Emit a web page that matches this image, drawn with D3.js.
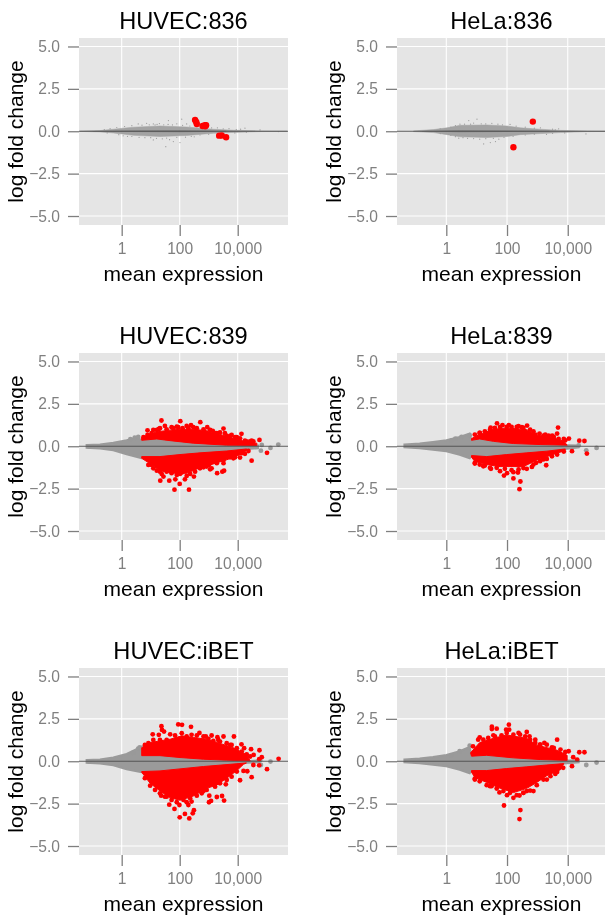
<!DOCTYPE html>
<html><head><meta charset="utf-8">
<script src="https://cdn.jsdelivr.net/npm/d3@7"></script>
<style>html,body{margin:0;padding:0;background:#fff;overflow:hidden}svg{display:block;filter:blur(.35px)}text{font-family:"Liberation Sans",Arial,sans-serif}</style>
</head><body><div id="chart"></div>
<script>
// All pairs are [log10 mean expression, log fold change].
const panelTitles = ["HUVEC:836","HeLa:836","HUVEC:839","HeLa:839","HUVEC:iBET","HeLa:iBET"];
const xTicks = [1,100,10000];
const yTicks = [5,2.5,0,-2.5,-5];

const grey836H = [[-1.44,.01],[-.75,.04],[-.29,.12],[.4,.24],[1.32,.31],[2.24,.25],[3.16,.12],[3.85,.06],[4.77,.02],[5.7,.01],[5.7,-.01],[4.77,-.02],[3.85,-.07],[3.16,-.12],[2.24,-.25],[1.32,-.31],[.4,-.24],[-.29,-.1],[-.75,-.04],[-1.44,-.01]];
const core836H = [[-1,.02],[.2,.05],[2,.06],[3.6,.03],[3.6,-.03],[2,-.06],[.2,-.05],[-1,-.02]];
const greyDots836H = [[1.61,.63],[2.07,.71],[1.52,-.91],[1.09,-.51],[2.01,-.67],[1.78,-.61],[.57,.43],[.86,.47],[1.09,.43],[1.22,.4],[4.25,.18],[4.77,.08],[5.4,-.02],[-.17,.22],[2.24,.43],[1.3,.45],[1.9,.44],[.8,-.38],[1.4,-.45],[2.5,-.33],[3.3,.2],[3.7,.15],[2.7,.3],[.2,-.3],[1.65,-.5],[.1,.28],[.35,.33],[.7,.36],[.95,.38],[1.15,.37],[1.45,.38],[1.6,.4],[1.75,.37],[2.1,.35],[2.35,.31],[2.9,.24],[3.1,.2],[3.5,.14],[3.95,.1],[4.1,.12],[-.4,.15],[-.6,.1],[-.5,-.1],[-.1,-.2],[.05,-.27],[.35,-.31],[.6,-.36],[1,-.38],[1.2,-.42],[1.55,-.4],[1.9,-.36],[2.2,-.35],[2.4,-.3],[2.7,-.22],[3,-.18],[3.4,-.13],[3.9,-.1],[4.3,-.06]];
const red836H = [[2.53,.67],[2.57,.55],[2.59,.43],[2.79,.31],[2.87,.36],[2.91,.35],[2.88,.29],[3.36,-.26],[3.45,-.25],[3.6,-.35]];

const grey836L = [[-1.08,.02],[-.42,.1],[.02,.2],[.46,.35],[1.34,.37],[2,.31],[2.44,.2],[3.1,.12],[3.76,.05],[4.64,.02],[5.24,.01],[5.24,-.01],[4.64,-.02],[3.76,-.08],[3.1,-.14],[2.44,-.2],[2,-.31],[1.34,-.37],[.46,-.33],[.02,-.2],[-.42,-.08],[-1.08,-.02]];
const core836L = [[-.8,.02],[.4,.06],[2,.05],[3.4,.03],[3.4,-.03],[2,-.05],[.4,-.06],[-.8,-.02]];
const greyDots836L = [[.74,.63],[1.01,.71],[1.23,-.75],[1.45,-.67],[1.62,-.61],[.45,.42],[3.59,.08],[4.6,-.16],[.41,-.41],[1.73,-.47],[.9,.48],[1.5,.47],[2.1,.4],[3.1,.2],[.7,-.42],[1.1,-.47],[3.3,-.18],[.15,.25],[.3,.33],[.6,.42],[.8,.42],[1.15,.44],[1.3,.43],[1.7,.42],[1.85,.38],[2.3,.3],[2.6,.24],[2.9,.18],[3.5,.12],[3.7,.14],[-.2,.14],[-.2,-.14],[.15,-.25],[.3,-.32],[.55,-.38],[.9,-.43],[1.3,-.44],[1.55,-.42],[1.9,-.36],[2.2,-.3],[2.6,-.22],[2.9,-.17],[3.5,-.12],[3.9,-.1]];
const red836L = [[2.85,.57],[2.21,-.94]];

const grey839H = [[-1.21,.07],[-.75,.1],[-.29,.2],[.17,.35],[.5,.5],[.69,.37],[1.21,.43],[1.67,.33],[2.47,.18],[3.62,.06],[4.31,.04],[4.7,.04],[4.7,-.12],[4.31,-.16],[3.62,-.28],[2.7,-.39],[2.01,-.49],[1.32,-.61],[.69,-.71],[.17,-.47],[-.29,-.24],[-.75,-.14],[-1.21,-.09]];
const greyDots839H = [[.57,.55],[4.83,.08],[5.4,.1],[5.13,-.1],[4.8,-.26],[-1.13,-.02],[.3,.42],[.45,.5]];
const redUp839H = [[.69,.48],[.86,.65],[1.21,.85],[1.67,.95],[2.01,1],[2.47,1],[2.93,.92],[3.39,.7],[3.85,.47],[4.31,.25],[4.66,.18],[4.66,.04],[3.62,.06],[2.47,.18],[1.67,.33],[1.21,.43],[.69,.35]];
const redDn839H = [[.69,-.61],[1.32,-.61],[2.01,-.49],[2.7,-.39],[3.62,-.28],[4.31,-.16],[4.31,-.25],[4.08,-.5],[3.62,-.8],[3.05,-1.1],[2.58,-1.35],[2.24,-1.6],[1.82,-1.6],[1.32,-1.45],[1,-1.05],[.69,-.71]];
const redDots839H = [[1.37,1.52],[2.02,1.48],[2.71,1.42],[2.39,1.24],[.89,.94],[1.49,1.2],[1.28,1.02],[1.78,1.06],[1.95,1.12],[2.47,1.12],[2.95,1.12],[3.51,1.04],[3.14,.91],[4.13,.73],[3.79,.67],[4.75,.37],[4.43,.28],[4.54,.28],[4.25,.33],[3.97,.53],[1.09,.96],[.75,.53],[3.28,.77],[3.62,.61],[2.24,1.2],[1.82,-2.56],[2.32,-2.56],[2,-2.22],[1.33,-2.03],[1.64,-2.03],[1.85,-1.95],[2.18,-1.95],[2.49,-1.79],[1.44,-1.79],[2.24,-1.75],[2.01,-1.63],[2.82,-1.24],[3.29,-1.59],[3.47,-1.5],[3.53,-1.44],[4.48,-.85],[5.01,-.39],[3.05,-1.36],[4.08,-.67],[4.25,-.45],[1.32,-1.5],[3.01,-1.1],[3.51,-1],[3.85,-.71],[1.03,-1.1],
[.89,.67],[1.03,.77],[1.21,.96],[1.32,1.06],[1.55,1],[1.72,1.12],[1.9,1.16],[2.1,1.06],[2.3,1.06],[2.59,1.06],[2.82,1],[3.05,.96],[3.22,.77],[3.39,.81],[3.56,.77],[3.74,.61],[3.91,.53],[4.08,.47],[4.31,.28],[4.48,.33],
[.92,-1.1],[1.09,-1.3],[1.21,-1.44],[1.38,-1.63],[1.55,-1.5],[1.72,-1.59],[1.9,-1.69],[2.07,-1.55],[2.36,-1.63],[2.53,-1.5],[2.7,-1.3],[2.93,-1.2],[3.1,-1.3],[3.28,-1],[3.51,-.81],[3.74,-.65],[3.91,-.65],[4.14,-.41],[4.37,-.28]];

const grey839L = [[-1.38,.1],[-.88,.16],[-.44,.25],[0,.35],[.44,.55],[.77,.75],[.83,.35],[1.1,.43],[1.55,.29],[2.21,.16],[3.09,.1],[3.98,.06],[4.36,.05],[4.36,-.06],[3.92,-.16],[3.31,-.29],[2.65,-.39],[1.99,-.49],[1.33,-.61],[.83,-.55],[.77,-.71],[.44,-.5],[0,-.3],[-.44,-.2],[-.88,-.12],[-1.38,-.06]];
const greyDots839L = [[4.61,-.24],[4.95,-.1],[.77,.65],[.17,.35],[4.36,.05],[.5,.55],[.3,.45]];
const redUp839L = [[.83,.45],[1.1,.7],[1.55,1],[1.99,1.08],[2.65,.98],[2.98,.65],[3.43,.55],[3.87,.3],[3.98,.06],[3.09,.1],[2.21,.16],[1.55,.29],[1.1,.43],[.83,.35]];
const redDn839L = [[.83,-.55],[1.33,-.61],[1.99,-.49],[2.65,-.39],[3.31,-.29],[3.92,-.16],[3.87,-.28],[3.54,-.47],[2.98,-.82],[2.54,-1.2],[1.77,-1.2],[1.44,-1.12],[.94,-.9],[.83,-.65]];
const redDots839L = [[1.67,1.35],[1.85,1.24],[2.06,1.25],[2.66,1.22],[1.46,1.1],[2.32,1.14],[2.49,1.12],[3.68,1.1],[3.65,.75],[3.49,.63],[3.07,.75],[3.87,.43],[4.04,.45],[4.38,.33],[4.55,.31],[1.1,.78],[2.87,.88],[3.26,.69],[2.41,-2.53],[2.44,-2.08],[2.21,-1.9],[1.9,-1.73],[2,-1.59],[2.21,-1.53],[2.36,-1.55],[1.77,-1.47],[1.47,-1.33],[2.54,-1.29],[2.82,-1.22],[2.96,-.98],[3.29,-1.12],[3.87,-.31],[4.14,-.29],[4.63,-.43],[.94,-1.02],[1.22,-1.18],[3.2,-.78],
[.94,.69],[1.1,.78],[1.27,.88],[1.44,.98],[1.6,1.08],[1.77,1.14],[1.99,1.14],[2.15,1.14],[2.38,1.18],[2.54,1.08],[2.76,.98],[2.93,.69],[3.2,.63],[3.37,.63],[3.54,.55],[3.7,.43],[3.92,.35],
[.94,-.98],[1.1,-1.08],[1.27,-1.14],[1.44,-1.27],[1.66,-1.27],[1.93,-1.33],[2.15,-1.41],[2.38,-1.37],[2.65,-1.33],[2.87,-1.08],[3.09,-.88],[3.31,-.75],[3.48,-.59],[3.65,-.49]];

const greyIbetH = [[-1.21,.07],[-.75,.1],[-.29,.22],[.17,.43],[.55,.75],[.69,.87],[.69,.33],[1.32,.33],[2.01,.22],[2.82,.12],[3.62,.06],[4.43,.02],[4.75,.04],[4.75,-.06],[4.2,-.1],[3.74,-.18],[2.82,-.31],[2.01,-.45],[1.32,-.57],[.69,-.65],[.17,-.47],[-.29,-.24],[-.75,-.14],[-1.21,-.09]];
const greyDotsIbetH = [[5.13,-.02],[4.8,-.22],[4.77,.06],[-1.13,-.02],[.57,.75],[.4,.5],[.62,.82]];
const redUpIbetH = [[.69,.8],[.98,1.1],[1.32,1.2],[1.67,1.3],[2.07,1.5],[2.47,1.4],[2.93,1.3],[3.39,1.05],[3.85,.8],[4.31,.38],[4.43,.02],[3.62,.06],[2.82,.12],[2.01,.22],[1.32,.33],[.69,.33]];
const redDnIbetH = [[.69,-.61],[1.32,-.57],[2.01,-.45],[2.82,-.31],[3.74,-.18],[4.3,-.1],[4.2,-.18],[3.97,-.55],[3.62,-1],[3.28,-1.4],[2.93,-1.6],[2.47,-2.05],[2.01,-2.3],[1.67,-2.15],[1.32,-1.75],[.98,-1.3],[.69,-.65]];
const redDotsIbetH = [[1.37,2.07],[1.39,1.85],[1.95,2.17],[2.08,2.15],[2.39,2.03],[1.07,1.59],[1.28,1.56],[1.46,1.75],[1.67,1.59],[2.41,1.56],[2.68,1.67],[2.9,1.46],[3.1,1.52],[3.3,1.42],[3.51,1.46],[3.87,1.46],[4.13,1],[4.22,.77],[4.46,.71],[4.75,.65],[4.55,.37],[4.83,.24],[5.41,.14],[4.74,.12],[3.74,.96],[3.39,1.16],[2,-3.31],[2.18,-3.11],[2.33,-3.37],[2.45,-3.07],[2.49,-2.89],[1.82,-2.81],[1.64,-2.56],[1.99,-2.58],[2.24,-2.42],[2.3,-2.58],[2.41,-2.38],[3.01,-2.42],[3.08,-2.34],[3.53,-2.32],[3.46,-2.05],[3.28,-2.11],[3.02,-2.03],[2.82,-1.75],[3.59,-1.36],[4.08,-1.12],[4.48,-.94],[5.01,-.47],[4.2,-.57],[4.33,-.59],[4.54,-.22],[4.74,-.24],[1.36,-2.03],[1.55,-2.09],
[.8,.96],[.92,1.06],[1.09,1.26],[1.32,1.26],[1.55,1.26],[1.84,1.52],[2.07,1.65],[2.24,1.46],[2.59,1.52],[2.82,1.46],[2.99,1.32],[3.16,1.2],[3.33,1.26],[3.62,1.06],[3.79,.96],[3.97,.77],[4.14,.57],[4.31,.41],[4.43,.28],
[.8,-1],[.98,-1.44],[1.15,-1.69],[1.32,-1.89],[1.49,-2.09],[1.72,-2.28],[1.9,-2.42],[2.13,-2.28],[2.36,-2.18],[2.59,-2.03],[2.76,-1.89],[2.93,-1.69],[3.22,-1.5],[3.39,-1.3],[3.62,-1.1],[3.79,-.91],[3.97,-.61]];

const greyIbetL = [[-1.38,.1],[-.88,.16],[-.44,.25],[0,.37],[.44,.59],[.77,.85],[.83,.3],[1.33,.35],[2.21,.2],[3.09,.1],[3.98,.05],[4.36,.05],[4.36,-.06],[3.87,-.14],[3.31,-.22],[2.65,-.33],[1.99,-.43],[1.33,-.55],[.83,-.55],[.77,-.71],[.44,-.5],[0,-.3],[-.44,-.2],[-.88,-.12],[-1.38,-.06]];
const greyDotsIbetL = [[4.61,-.22],[4.95,-.08],[.77,.92],[.44,.59],[.17,.35]];
const redUpIbetL = [[.8,.5],[1.1,1.1],[1.55,1.35],[1.99,1.55],[2.65,1.35],[2.98,.95],[3.65,.65],[3.98,.35],[3.98,.05],[3.09,.1],[2.21,.2],[1.33,.35],[.83,.3]];
const redDnIbetL = [[.83,-.55],[1.33,-.55],[1.99,-.43],[2.65,-.33],[3.31,-.22],[3.87,-.14],[3.76,-.5],[3.31,-.85],[2.98,-1.25],[2.65,-1.6],[2.21,-1.85],[1.71,-1.55],[1.33,-1.25],[.94,-.95],[.83,-.65]];
const redDotsIbetL = [[2.06,2.16],[1.5,2.04],[1.66,1.92],[1.5,1.9],[1.97,1.86],[2.07,1.86],[2.65,1.73],[2.74,1.47],[2.38,1.67],[1.1,1.41],[1.55,1.53],[3.65,1.27],[3.23,1.08],[3.48,.82],[4.03,.59],[4.38,.53],[4.55,.53],[4.18,.24],[4.31,.1],[3.09,.98],[2.93,1.27],[2.41,-3.41],[2.44,-2.88],[1.9,-2.61],[2.21,-2.16],[2,-2],[1.75,-1.84],[2.41,-2.02],[2.54,-1.86],[2.87,-1.76],[1.44,-1.47],[3.31,-1.08],[3.59,-.75],[4.14,-.29],[3.85,-.39],[.94,-1.02],[2.65,-1.76],
[.88,.88],[1.05,1.27],[1.22,1.27],[1.38,1.37],[1.6,1.47],[1.82,1.53],[1.99,1.67],[2.21,1.57],[2.43,1.57],[2.6,1.47],[2.76,1.27],[2.93,1.08],[3.09,.98],[3.31,.98],[3.54,.78],[3.76,.69],[3.92,.55],
[.94,-1.08],[1.1,-1.18],[1.33,-1.41],[1.49,-1.47],[1.66,-1.61],[1.88,-1.76],[2.1,-1.86],[2.32,-2],[2.54,-1.86],[2.76,-1.73],[2.98,-1.41],[3.2,-1.08],[3.43,-.88],[3.65,-.63]];

const panelGrey = [grey836H,grey836L,grey839H,grey839L,greyIbetH,greyIbetL];
const panelCore = [core836H,core836L,null,null,null,null];
const panelGreyDots = [greyDots836H,greyDots836L,greyDots839H,greyDots839L,greyDotsIbetH,greyDotsIbetL];
const panelRedBands = [[],[],[redUp839H,redDn839H],[redUp839L,redDn839L],[redUpIbetH,redDnIbetH],[redUpIbetL,redDnIbetL]];
const panelRedDots = [red836H,red836L,redDots839H,redDots839L,redDotsIbetH,redDotsIbetL];

const W=605,H=915,PW=209,PH=187;
const lefts=[79,397], tops=[38,353,668];
const xDomains=[[10**-1.472,10**5.734],[10**-1.624,10**5.26]];
const yDomain=[-5.53,5.5];
const svg=d3.select("#chart").append("svg").attr("width",W).attr("height",H);
const fmt=d3.format(",");
panelTitles.forEach((title,i)=>{
  const col=i%2,row=Math.floor(i/2);
  const g=svg.append("g").attr("transform",`translate(${lefts[col]},${tops[row]})`);
  const x=d3.scaleLog().domain(xDomains[col]).range([0,PW]);
  const y=d3.scaleLinear().domain(yDomain).range([PH,0]);
  const X=d=>x(10**d[0]),Y=d=>y(d[1]);
  g.append("rect").attr("width",PW).attr("height",PH).attr("fill","#E5E5E5");
  g.selectAll(".gx").data(xTicks).join("line").attr("x1",d=>x(d)).attr("x2",d=>x(d)).attr("y2",PH).attr("stroke","#fff").attr("stroke-width",1.1);
  g.selectAll(".gy").data(yTicks).join("line").attr("y1",d=>y(d)).attr("y2",d=>y(d)).attr("x2",PW).attr("stroke","#fff").attr("stroke-width",1.1);
  const xa=g.append("g").attr("transform",`translate(0,${PH})`).call(d3.axisBottom(x).tickValues(xTicks).tickFormat(fmt).tickSize(11).tickPadding(7));
  const ya=g.append("g").call(d3.axisLeft(y).tickValues(yTicks).tickFormat(d3.format(".1f")).tickSize(11).tickPadding(8));
  [xa,ya].forEach(a=>{a.select(".domain").remove();a.selectAll("line").attr("stroke","#7F7F7F").attr("stroke-width",1.3);
    a.selectAll("text").attr("fill","#7F7F7F").attr("font-size",15.6).attr("font-family","Liberation Sans");});
  const line=d3.line().x(X).y(Y);
  const clip="c"+i;
  g.append("clipPath").attr("id",clip).append("rect").attr("width",PW).attr("height",PH);
  const p=g.append("g").attr("clip-path",`url(#${clip})`);
  const small=row===0;
  p.append("path").attr("d",line(panelGrey[i])+"Z").attr("fill",small?"#A3A3A3":"#9A9A9A").attr("stroke",small?"#A3A3A3":"#9A9A9A").attr("stroke-width",small?0.5:2);
  if(panelCore[i]) p.append("path").attr("d",line(panelCore[i])+"Z").attr("fill","#7E7E7E");
  p.selectAll(".gd").data(panelGreyDots[i]).join("circle").attr("cx",X).attr("cy",Y).attr("r",small?.6:2.4).attr("fill","#999");
  panelRedBands[i].forEach(b=>p.append("path").attr("d",line(b)+"Z").attr("fill","#FF0000").attr("stroke","#FF0000").attr("stroke-width",1));
  p.selectAll(".rd").data(panelRedDots[i]).join("circle").attr("cx",X).attr("cy",Y).attr("r",small?3.2:2.4).attr("fill","#FF0000");
  p.append("line").attr("x2",PW).attr("y1",y(0)).attr("y2",y(0)).attr("stroke","#555").attr("stroke-width",1.1);
  g.append("text").attr("x",PW/2).attr("y",-9).attr("text-anchor","middle").attr("font-size",23.6).attr("fill","#000").text(title);
  g.append("text").attr("x",PW/2).attr("y",PH+56).attr("text-anchor","middle").attr("font-size",21).attr("fill","#000").text("mean expression");
  g.append("text").attr("transform",`translate(-56,${PH/2}) rotate(-90)`).attr("text-anchor","middle").attr("font-size",21).attr("fill","#000").text("log fold change");
});
</script></body></html>
